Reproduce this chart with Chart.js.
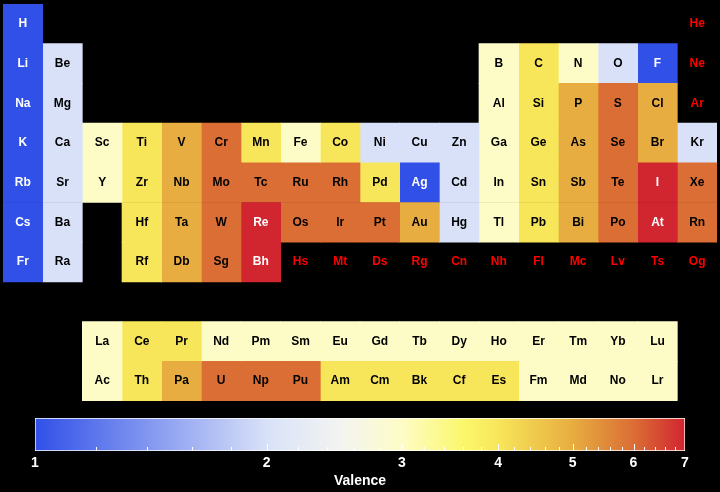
<!DOCTYPE html>
<html>
<head>
<meta charset="utf-8">
<title>Valence</title>
<script src="https://cdn.jsdelivr.net/npm/chart.js@4/dist/chart.umd.min.js"></script>
<style>
  html, body { margin:0; padding:0; background:#000; }
  #wrap { position:relative; width:720px; height:492px; }
  #tableCanvas { position:absolute; left:0; top:0; }
  #cbarCanvas  { position:absolute; left:0; top:405px; }
</style>
</head>
<body>
<div id="wrap">
  <canvas id="tableCanvas" width="720" height="405"></canvas>
  <canvas id="cbarCanvas" width="720" height="87"></canvas>
</div>
<script>
/* ====== DATA ====== */
// rows of the table: periods 1-7, a spacer, then lanthanides / actinides
const rowNames = ["1","2","3","4","5","6","7","","Ln","An"];
const symbolRows = [
  ["H","","","","","","","","","","","","","","","","","He"],
  ["Li","Be","","","","","","","","","","","B","C","N","O","F","Ne"],
  ["Na","Mg","","","","","","","","","","","Al","Si","P","S","Cl","Ar"],
  ["K","Ca","Sc","Ti","V","Cr","Mn","Fe","Co","Ni","Cu","Zn","Ga","Ge","As","Se","Br","Kr"],
  ["Rb","Sr","Y","Zr","Nb","Mo","Tc","Ru","Rh","Pd","Ag","Cd","In","Sn","Sb","Te","I","Xe"],
  ["Cs","Ba","","Hf","Ta","W","Re","Os","Ir","Pt","Au","Hg","Tl","Pb","Bi","Po","At","Rn"],
  ["Fr","Ra","","Rf","Db","Sg","Bh","Hs","Mt","Ds","Rg","Cn","Nh","Fl","Mc","Lv","Ts","Og"],
  ["","","","","","","","","","","","","","","","","",""],
  ["","","La","Ce","Pr","Nd","Pm","Sm","Eu","Gd","Tb","Dy","Ho","Er","Tm","Yb","Lu",""],
  ["","","Ac","Th","Pa","U","Np","Pu","Am","Cm","Bk","Cf","Es","Fm","Md","No","Lr",""]
];
// null = no value known
const valenceRows = [
  [1,null,null,null,null,null,null,null,null,null,null,null,null,null,null,null,null,null],
  [1,2,null,null,null,null,null,null,null,null,null,null,3,4,3,2,1,null],
  [1,2,null,null,null,null,null,null,null,null,null,null,3,4,5,6,5,null],
  [1,2,3,4,5,6,4,3,4,2,2,2,3,4,5,6,5,2],
  [1,2,3,4,5,6,6,6,6,4,1,2,3,4,5,6,7,6],
  [1,2,null,4,5,6,7,6,6,6,5,2,3,4,5,6,7,6],
  [1,2,null,4,5,6,7,null,null,null,null,null,null,null,null,null,null,null],
  [null,null,null,null,null,null,null,null,null,null,null,null,null,null,null,null,null,null],
  [null,null,3,4,4,3,3,3,3,3,3,3,3,3,3,3,3,null],
  [null,null,3,4,5,6,6,6,4,4,4,4,4,3,3,3,3,null]
];

/* ====== COLOUR MAP (log scale 1..7) ====== */
const cmapValues = [1, 2, 2.5, 3, 3.6, 4, 5, 6, 7];
const cmapColors = ["#3050e8","#d8e1f8","#f3f4f1","#fefcc6","#fbf76c","#f8e65a","#e7ad40","#db6e35","#d12530"];
const cbarLabels = [1,2,3,4,5,6,7];
const cbarMinor = [1.2,1.4,1.6,1.8,2.2,2.4,2.6,2.8,3.2,3.4,3.6,3.8,4.2,4.4,4.6,4.8,5.2,5.4,5.6,5.8,6.2,6.4,6.6,6.8];
const VMIN = 1, VMAX = 7;

const hex = h => [1,3,5].map(i=>parseInt(h.slice(i,i+2),16));
function colorFor(v){
  if (v == null) return "rgba(0,0,0,0)";
  const t = Math.log(v)/Math.log(VMAX);
  for (let i=1;i<cmapValues.length;i++){
    const t0 = Math.log(cmapValues[i-1])/Math.log(VMAX), t1 = Math.log(cmapValues[i])/Math.log(VMAX);
    if (t <= t1 + 1e-9){
      const f = (t - t0)/(t1 - t0), a = hex(cmapColors[i-1]), b = hex(cmapColors[i]);
      return `rgb(${a.map((x,k)=>Math.round(x+(b[k]-x)*f)).join(",")})`;
    }
  }
  return cmapColors[cmapColors.length-1];
}
const FONT = "'Liberation Sans', Arial, Helvetica, sans-serif";

/* ====== PERIODIC TABLE ====== */
const cellLabels = {
  id: "cellLabels",
  afterDatasetsDraw(chart){
    const ctx = chart.ctx;
    ctx.save();
    ctx.font = `bold 12px ${FONT}`;
    ctx.textAlign = "center"; ctx.textBaseline = "middle";
    chart.data.datasets.forEach((ds, c)=>{
      chart.getDatasetMeta(c).data.forEach((bar, r)=>{
        const sym = symbolRows[r][c];
        if (!sym) return;
        const v = valenceRows[r][c];
        ctx.fillStyle = v == null ? "#ff0000" : (v === 1 || v === 7 ? "#ffffff" : "#000000");
        ctx.fillText(sym, (bar.x + bar.base)/2, bar.y);
      });
    });
    ctx.restore();
  }
};

const columns = symbolRows[0].map((_, c)=>c);
new Chart(document.getElementById("tableCanvas"), {
  type: "bar",
  data: {
    labels: rowNames,
    datasets: columns.map(c=>({
      data: rowNames.map((_, r)=> symbolRows[r][c] ? [c, c+1] : null),
      backgroundColor: rowNames.map((_, r)=> colorFor(valenceRows[r][c])),
      borderWidth: 0,
      grouped: false,
      categoryPercentage: 1,
      barPercentage: 1
    }))
  },
  options: {
    indexAxis: "y",
    responsive: false,
    animation: false,
    layout: { padding: { left:3, right:3, top:4, bottom:4 } },
    plugins: { legend: { display:false }, tooltip: { enabled:false } },
    scales: {
      x: { type:"linear", min:0, max:18, display:false },
      y: { type:"category", display:false }
    }
  },
  plugins: [cellLabels]
});

/* ====== COLOUR BAR ====== */
const cbarTicks = {
  id: "cbarTicks",
  afterDatasetsDraw(chart){
    const ctx = chart.ctx, xs = chart.scales.x, bottom = chart.chartArea.bottom;
    ctx.save();
    ctx.strokeStyle = "#ffffff"; ctx.lineWidth = 1;
    const mark = (v, len)=>{
      const x = Math.round(xs.getPixelForValue(v)) + 0.5;
      ctx.beginPath(); ctx.moveTo(x, bottom); ctx.lineTo(x, bottom - len); ctx.stroke();
    };
    cbarMinor.forEach(v=>mark(v, 4));
    cbarLabels.slice(1, -1).forEach(v=>mark(v, 7));
    ctx.restore();
  }
};

new Chart(document.getElementById("cbarCanvas"), {
  type: "bar",
  data: {
    labels: ["Valence"],
    datasets: [{
      data: [[VMIN, VMAX]],
      backgroundColor: (ctx)=>{
        const area = ctx.chart.chartArea;
        if (!area) return cmapColors[0];
        const g = ctx.chart.ctx.createLinearGradient(area.left, 0, area.right, 0);
        cmapValues.forEach((v, i)=> g.addColorStop(Math.log(v)/Math.log(VMAX), cmapColors[i]));
        return g;
      },
      borderColor: "#ffffff",
      borderWidth: 1,
      borderSkipped: false,
      categoryPercentage: 1,
      barPercentage: 1
    }]
  },
  options: {
    indexAxis: "y",
    responsive: false,
    animation: false,
    layout: { padding: { left:35, right:35, top:13, bottom:0 } },
    plugins: { legend: { display:false }, tooltip: { enabled:false } },
    scales: {
      x: {
        type: "logarithmic", min: VMIN, max: VMAX,
        afterBuildTicks: s=>{ s.ticks = cbarLabels.map(v=>({ value:v })); },
        afterFit: s=>{ s.height = 41; },   // layout caps it otherwise
        grid: { display:false, drawTicks:false },
        border: { display:false },
        ticks: {
          color: "#ffffff", font: { family: FONT, size: 14, weight: "bold" },
          padding: 4, autoSkip: false, maxRotation: 0,
          callback: v=>String(v)
        },
        title: {
          display: true, text: "Valence", color: "#ffffff",
          font: { family: FONT, size: 14, weight: "bold" },
          padding: { top: 6, bottom: 2 }
        }
      },
      y: { type:"category", display:false }
    }
  },
  plugins: [cbarTicks]
});
</script>
</body>
</html>
